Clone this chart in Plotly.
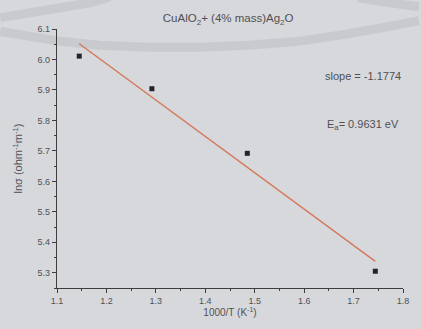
import numpy as np
import plotly.graph_objects as go

# Data
inv_T = [1.145, 1.292, 1.485, 1.744]          # 1000/T (K^-1)
ln_sigma = [6.011, 5.904, 5.692, 5.305]        # ln sigma (ohm^-1 m^-1)
x_ticks = [1.1, 1.2, 1.3, 1.4, 1.5, 1.6, 1.7, 1.8]
y_ticks = [5.3, 5.4, 5.5, 5.6, 5.7, 5.8, 5.9, 6.0, 6.1]
slope_text = "slope = -1.1774"
ea_text = "E<sub>a</sub>= 0.9631 eV"
title_text = "CuAlO<sub>2</sub>+ (4% mass)Ag<sub>2</sub>O"

# Linear fit
coef = np.polyfit(inv_T, ln_sigma, 1)
fit_x = np.array([min(inv_T), max(inv_T)])
fit_y = np.polyval(coef, fit_x)

txt = "rgb(80,80,85)"
bg = "rgb(215,216,219)"

fig = go.Figure()
fig.add_trace(go.Scatter(x=fit_x, y=fit_y, mode="lines",
                         line=dict(color="rgb(212,122,92)", width=1.5),
                         hoverinfo="skip", showlegend=False))
fig.add_trace(go.Scatter(x=inv_T, y=ln_sigma, mode="markers",
                         marker=dict(symbol="square", size=5, color="rgb(35,35,40)"),
                         showlegend=False))

# plot area in pixels: x 57..405, y 28.5..291
def px(x):
    return (x - 57) / 348.0
def py(y):
    return (291 - y) / 262.5

def path(pts):
    s = "M %f,%f" % (px(pts[0][0]), py(pts[0][1]))
    for p in pts[1:]:
        s += " L %f,%f" % (px(p[0]), py(p[1]))
    return s

band_low = [(0, 31), (30, 36), (60, 41), (100, 45), (150, 47), (200, 47), (250, 45),
            (300, 41), (340, 35), (380, 28), (421, 20)]
band_up = [(0, 17), (30, 12), (60, 7), (90, 2), (110, -4)]
band_up_r = [(360, -3), (385, 1), (421, 6)]
shapes = []
for b in (band_low, band_up, band_up_r):
    shapes.append(dict(type="path", path=path(b), xref="paper", yref="paper",
                       line=dict(color="rgba(185,186,190,0.45)", width=9), layer="below"))

fig.update_layout(
    width=421, height=329,
    margin=dict(l=57, r=16, t=28.5, b=38),
    paper_bgcolor=bg, plot_bgcolor=bg,
    font=dict(family="Liberation Sans, Arial, sans-serif", color=txt, size=9),
    title=dict(text=title_text, x=0.542, xanchor="center", y=0.945, yanchor="middle",
               font=dict(size=11.5, color=txt)),
    shapes=shapes,
    xaxis=dict(range=[1.1, 1.8], tickvals=x_ticks, ticktext=[str(v) for v in x_ticks],
               showgrid=False, zeroline=False, showline=True, linecolor="rgb(60,60,60)",
               linewidth=1.2, ticks="outside", ticklen=4, tickcolor="rgb(60,60,60)",
               minor=dict(ticks="outside", ticklen=2, dtick=0.05, tickcolor="rgb(60,60,60)"),
               tickfont=dict(size=9, color=txt),
               title=dict(text="1000/T (K<sup>-1</sup>)", font=dict(size=10, color=txt), standoff=4)),
    yaxis=dict(range=[5.25, 6.1], tickvals=y_ticks, ticktext=["%.1f" % v for v in y_ticks],
               showgrid=False, zeroline=False, showline=True, linecolor="rgb(60,60,60)",
               linewidth=1.2, ticks="outside", ticklen=4, tickcolor="rgb(60,60,60)",
               minor=dict(ticks="outside", ticklen=2, dtick=0.05, tickcolor="rgb(60,60,60)"),
               tickfont=dict(size=9, color=txt),
               title=dict(text="lnσ (ohm<sup>-1</sup>m<sup>-1</sup>)", font=dict(size=11, color=txt), standoff=12)),
    annotations=[
        dict(text=slope_text, x=px(405), y=py(76), xref="paper", yref="paper",
             xanchor="right", yanchor="middle", showarrow=False, font=dict(size=11, color=txt)),
        dict(text=ea_text, x=px(403), y=py(126), xref="paper", yref="paper",
             xanchor="right", yanchor="middle", showarrow=False, font=dict(size=11, color=txt)),
    ],
)

fig.write_html("out.html", config={"displayModeBar": False},
               post_script="document.body.style.margin='0';document.body.style.background='%s';" % bg)
